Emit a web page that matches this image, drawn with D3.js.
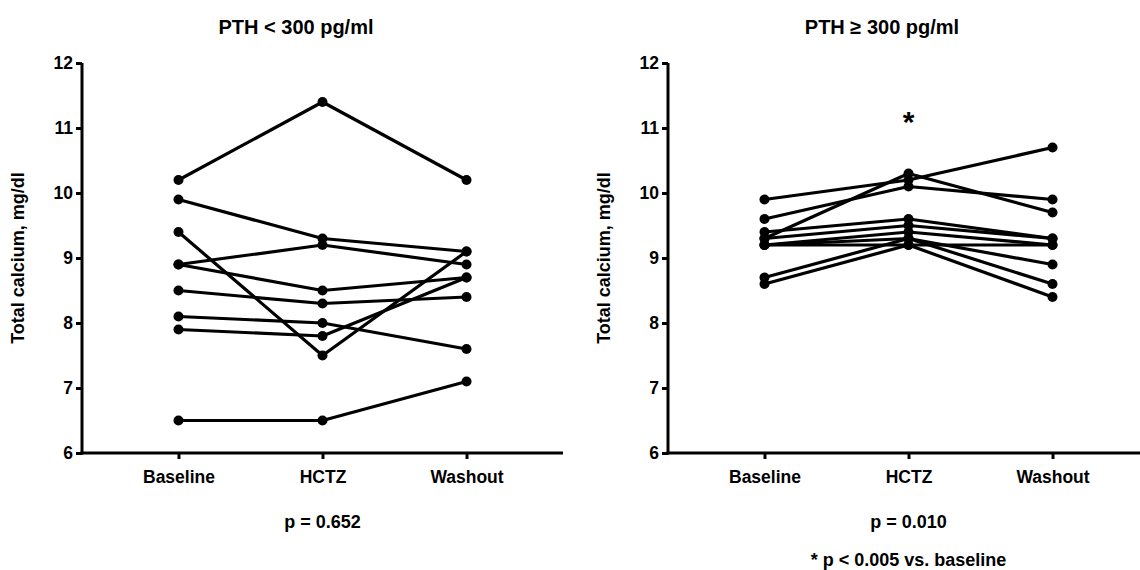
<!DOCTYPE html>
<html>
<head>
<meta charset="utf-8">
<script src="https://cdn.jsdelivr.net/npm/d3@7"></script>
<style>
  body { margin: 0; background: #fff; }
  svg { display: block; font-family: Arial, "Liberation Sans", sans-serif; font-weight: bold; }
</style>
</head>
<body>
<svg id="chart" width="1140" height="570"></svg>
<script>
// Time points on the x axis
const categories = ["Baseline", "HCTZ", "Washout"];
const yTicks = [6, 7, 8, 9, 10, 11, 12];

// Total calcium per patient (mg/dl): [Baseline, HCTZ, Washout]
const lowPthSeries = [
    [10.2, 11.4, 10.2],
    [9.9, 9.3, 9.1],
    [9.4, 7.5, 9.1],
    [8.9, 9.2, 8.9],
    [8.9, 8.5, 8.7],
    [8.5, 8.3, 8.4],
    [8.1, 8.0, 7.6],
    [7.9, 7.8, 8.7],
    [6.5, 6.5, 7.1]
];

const highPthSeries = [
    [9.9, 10.2, 10.7],
    [9.6, 10.1, 9.9],
    [9.3, 10.3, 9.7],
    [9.4, 9.6, 9.3],
    [9.3, 9.5, 9.3],
    [9.2, 9.4, 9.2],
    [9.2, 9.2, 9.2],
    [9.2, 9.3, 8.9],
    [8.7, 9.3, 8.6],
    [8.6, 9.2, 8.4]
];

const panelTitles = ["PTH < 300 pg/ml", "PTH \u2265 300 pg/ml"];
const pValues = ["p = 0.652", "p = 0.010"];
const yLabel = "Total calcium, mg/dl";

const svg = d3.select("#chart");

const yTop = 63, yBottom = 453;
const y = d3.scaleLinear().domain([6, 12]).range([yBottom, yTop]);

function drawPanel(originX, series, title, pText) {
    const x = d3.scalePoint()
        .domain(categories)
        .range([originX, originX + 481])
        .padding(0.67);

    const g = svg.append("g");

    // y axis
    const yAxis = g.append("g")
        .attr("transform", `translate(${originX},0)`)
        .call(d3.axisLeft(y).tickValues(yTicks).tickFormat(d3.format("d")).tickSizeOuter(0).tickSize(6).tickPadding(3));

    // x axis
    const xAxis = g.append("g")
        .attr("transform", `translate(0,${yBottom})`)
        .call(d3.axisBottom(x).tickSizeOuter(0).tickSize(6).tickPadding(12));

    [yAxis, xAxis].forEach(ax => {
        ax.select(".domain").attr("stroke", "#000").attr("stroke-width", 3);
        ax.selectAll(".tick line").attr("stroke", "#000").attr("stroke-width", 3);
        ax.selectAll(".tick text")
            .attr("fill", "#000")
            .style("font-size", "17.5px")
            .style("font-weight", "bold")
            .style("font-family", "Arial, 'Liberation Sans', sans-serif");
    });
    // extend the x domain to meet the y axis
    xAxis.select(".domain").attr("d", `M${originX - 1.5},0H${originX + 481}`);
    yAxis.select(".domain").attr("d", `M0,${yTop}V${yBottom + 1.5}`);

    const line = d3.line()
        .x((d, i) => x(categories[i]))
        .y(d => y(d));

    g.selectAll("path.subject")
        .data(series)
        .join("path")
        .attr("class", "subject")
        .attr("d", line)
        .attr("fill", "none")
        .attr("stroke", "#000")
        .attr("stroke-width", 3.2)
        .attr("stroke-linejoin", "round");

    const pts = series.flatMap(s => s.map((v, i) => ({ c: categories[i], v })));
    g.selectAll("circle")
        .data(pts)
        .join("circle")
        .attr("cx", d => x(d.c))
        .attr("cy", d => y(d.v))
        .attr("r", 5)
        .attr("fill", "#000");

    // titles and notes
    g.append("text")
        .attr("x", originX + 214)
        .attr("y", 34)
        .attr("text-anchor", "middle")
        .style("font-size", "20px")
        .text(title);

    g.append("text")
        .attr("transform", `translate(${originX - 58},${(yTop + yBottom) / 2}) rotate(-90)`)
        .attr("text-anchor", "middle")
        .style("font-size", "18px")
        .text(yLabel);

    g.append("text")
        .attr("x", x("HCTZ"))
        .attr("y", 528)
        .attr("text-anchor", "middle")
        .style("font-size", "18px")
        .text(pText);

    return x;
}

drawPanel(82, lowPthSeries, panelTitles[0], pValues[0]);
const xRight = drawPanel(668, highPthSeries, panelTitles[1], pValues[1]);

svg.append("text")
    .attr("x", xRight("HCTZ"))
    .attr("y", 132)
    .attr("text-anchor", "middle")
    .style("font-size", "30px")
    .text("*");

svg.append("text")
    .attr("x", xRight("HCTZ"))
    .attr("y", 566)
    .attr("text-anchor", "middle")
    .style("font-size", "18px")
    .text("* p < 0.005 vs. baseline");
</script>
</body>
</html>
